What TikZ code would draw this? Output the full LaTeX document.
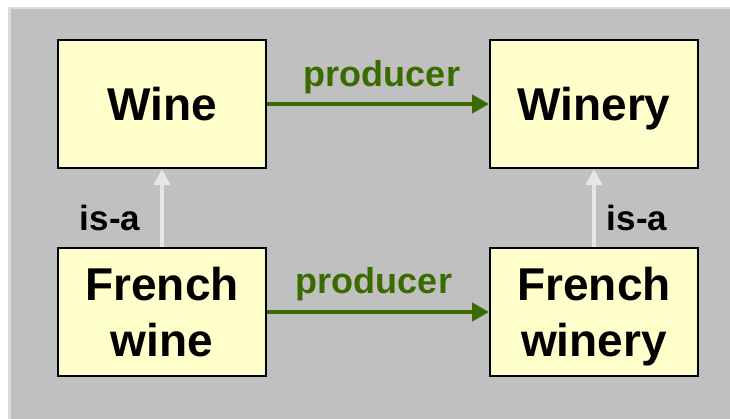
\documentclass[tikz,border=0pt]{standalone}
\usepackage{fontspec}
\setmainfont{Liberation Sans}
\usetikzlibrary{arrows.meta}
\definecolor{panelgray}{HTML}{C0C0C0}
\definecolor{paneledge}{HTML}{DCDCDC}
\definecolor{boxfill}{HTML}{FFFFCC}
\definecolor{relgreen}{HTML}{3A6B00}
\definecolor{isagray}{HTML}{E6E6E6}
\begin{document}
\begin{tikzpicture}[x=1pt,y=-1pt,
  concept/.style={draw=black, line width=2pt, fill=boxfill, minimum width=208pt,
    minimum height=128pt, inner sep=0pt, align=center, text depth=0pt,
    font=\bfseries\fontsize{46}{56}\selectfont},
  relarrow/.style={draw=relgreen, line width=4.5pt,
    -{Triangle[length=17pt,width=18pt]}},
  isaarrow/.style={draw=isagray, line width=4pt,
    -{Triangle[length=16pt,width=16pt]}},
  rellabel/.style={text=relgreen, inner sep=0pt, anchor=base,
    font=\bfseries\fontsize{36}{42}\selectfont},
  isalabel/.style={text=black, inner sep=0pt, anchor=base,
    font=\bfseries\fontsize{35}{42}\selectfont}]
  \useasboundingbox (0,0) rectangle (730,418);
  \fill[white] (0,0) rectangle (730,418);
  % panel background with its light edge
  \fill[paneledge] (8,6.5) rectangle (731,419);
  \fill[panelgray] (10.5,9) rectangle (731,419);

  % concepts
  \node[concept] (wine)    at (162,104) {Wine};
  \node[concept] (winery)  at (594,104) {Winery};
  \node[concept] (fwine)   at (162,312) {French\\wine};
  \node[concept] (fwinery) at (594,312) {French\\winery};

  % producer relations
  \draw[relarrow] (wine.east) -- (winery.west);
  \draw[relarrow] (fwine.east) -- (fwinery.west);
  \node[rellabel] (prodtop) at (382,86) {producer};
  \node[rellabel] (prodbot) at (374,293) {producer};

  % subclass links
  \draw[isaarrow] (fwine.north) -- (wine.south);
  \draw[isaarrow] (fwinery.north) -- (winery.south);
  \node[isalabel] (isaleft)  at (110,230) {is-a};
  \node[isalabel] (isaright) at (637,230) {is-a};
\end{tikzpicture}
\end{document}
